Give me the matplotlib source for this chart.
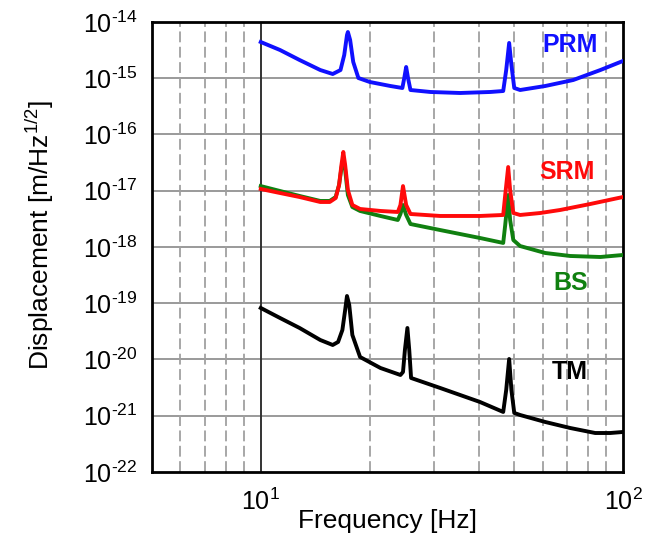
import matplotlib
matplotlib.use("Agg")
import matplotlib.pyplot as plt
from matplotlib.ticker import FixedLocator, NullLocator

plt.rcParams["font.family"] = ["Liberation Sans", "DejaVu Sans"]
plt.rcParams["mathtext.fontset"] = "custom"
plt.rcParams["mathtext.rm"] = "Liberation Sans"
plt.rcParams["mathtext.it"] = "Liberation Sans:italic"
plt.rcParams["mathtext.bf"] = "Liberation Sans:bold"

# ---- displacement noise spectra [m/Hz^1/2] ----
prm_freq = [10.0, 11.3, 12.8, 14.6, 15.8, 16.6, 17.0, 17.3, 17.4, 17.65, 18.0, 18.6,
            20.0, 22.8, 24.6, 24.9, 25.2, 25.5, 25.9, 29.4, 35.5, 43.0, 46.7, 47.6,
            48.5, 49.2, 50.1, 52.0, 61.0, 72.9, 86.6, 100.0]
prm_val = [4.41e-15, 3.18e-15, 2.11e-15, 1.40e-15, 1.19e-15, 1.40e-15, 2.59e-15, 5.87e-15,
           6.64e-15, 4.79e-15, 1.95e-15, 1.01e-15, 8.58e-16, 7.28e-16, 6.71e-16, 1.01e-15,
           1.585e-15, 1.01e-15, 6.18e-16, 5.70e-16, 5.47e-16, 5.70e-16, 5.93e-16, 1.40e-15,
           4.24e-15, 1.72e-15, 6.71e-16, 6.18e-16, 7.28e-16, 9.31e-16, 1.40e-15, 2.03e-15]

srm_freq = [10.0, 11.3, 12.8, 14.6, 15.5, 16.1, 16.45, 16.7, 16.9, 17.1, 17.4, 17.9,
            18.8, 21.4, 23.9, 24.3, 24.7, 25.2, 25.9, 31.3, 40.3, 46.7, 47.3, 48.2,
            48.8, 49.8, 52.0, 59.1, 67.1, 81.2, 100.0]
srm_val = [1.074e-17, 9.12e-18, 7.74e-18, 6.31e-18, 6.31e-18, 7.43e-18, 1.265e-17, 2.87e-17,
           4.89e-17, 2.87e-17, 1.03e-17, 5.58e-18, 4.74e-18, 4.37e-18, 4.19e-18, 5.58e-18,
           1.21e-17, 5.58e-18, 3.86e-18, 3.56e-18, 3.56e-18, 3.71e-18, 8.40e-18, 2.64e-17,
           1.03e-17, 4.02e-18, 3.71e-18, 4.02e-18, 4.55e-18, 5.81e-18, 7.74e-18]

bs_freq = [10.0, 11.3, 12.8, 14.6, 15.5, 16.1, 16.45, 16.7, 16.9, 17.1, 17.4, 17.9,
           18.8, 21.4, 23.9, 24.3, 24.7, 25.2, 25.9, 31.3, 40.3, 46.7, 47.3, 48.2,
           48.8, 49.8, 52.0, 61.0, 71.5, 86.6, 100.0]
bs_val = [1.21e-17, 9.90e-18, 8.07e-18, 6.58e-18, 6.58e-18, 7.74e-18, 1.265e-17, 2.54e-17,
          3.82e-17, 2.34e-17, 8.40e-18, 5.14e-18, 4.37e-18, 3.56e-18, 3.02e-18, 3.86e-18,
          5.58e-18, 3.71e-18, 2.56e-18, 2.00e-18, 1.445e-18, 1.18e-18, 2.46e-18, 8.40e-18,
          3.02e-18, 1.33e-18, 1.04e-18, 7.82e-19, 6.92e-19, 6.64e-19, 7.21e-19]

tm_freq = [10.0, 11.3, 12.8, 14.6, 15.8, 16.35, 16.8, 17.1, 17.3, 17.55, 17.9, 18.8,
           21.4, 24.3, 24.7, 25.0, 25.4, 25.7, 26.0, 31.3, 40.3, 46.7, 47.6, 48.5,
           49.2, 50.1, 52.0, 61.0, 71.5, 83.8, 92.2, 100.0]
tm_val = [8.24e-20, 5.47e-20, 3.63e-20, 2.22e-20, 1.81e-20, 2.05e-20, 3.34e-20, 7.59e-20,
          1.346e-19, 9.31e-20, 2.73e-20, 1.107e-20, 7.06e-21, 5.30e-21, 6.00e-21, 1.476e-20,
          3.63e-20, 1.476e-20, 4.69e-21, 3.11e-21, 1.754e-21, 1.167e-21, 2.87e-21, 1.02e-20,
          2.87e-21, 1.12e-21, 1.03e-21, 7.74e-22, 6.05e-22, 4.93e-22, 4.93e-22, 5.14e-22]

x_ticks = [10, 100]
x_tick_labels = [r"$\mathregular{10^{1}}$", r"$\mathregular{10^{2}}$"]
y_exponents = [-22, -21, -20, -19, -18, -17, -16, -15, -14]

fig = plt.figure(figsize=(6.52, 5.42), dpi=100)
ax = fig.add_axes([0.2327, 0.1292, 0.7228, 0.8302])
ax.set_xscale("log")
ax.set_yscale("log")
ax.set_xlim(5, 100)
ax.set_ylim(1e-22, 1e-14)

# grid: solid decade lines, dashed minor frequency lines
for e in y_exponents[1:-1]:
    ax.axhline(10.0 ** e, color="#9a9a9a", lw=1.4, zorder=1)
for f in [6, 7, 8, 9, 20, 30, 40, 50, 60, 70, 80, 90]:
    ax.axvline(f, color="#a0a0a0", lw=1.3, ls=(0, (6, 2.5)), zorder=1)
ax.axvline(10, color="#333333", lw=1.4, zorder=1)

lw = 2.8
ax.plot(prm_freq, prm_val, color="#1010ff", lw=lw, zorder=3, solid_joinstyle="round")
ax.plot(bs_freq, bs_val, color="#108010", lw=lw, zorder=3, solid_joinstyle="round")
ax.plot(srm_freq, srm_val, color="#ff0a0a", lw=lw, zorder=4, solid_joinstyle="round")
ax.plot(tm_freq, tm_val, color="black", lw=lw, zorder=3, solid_joinstyle="round")

label_kw = dict(fontsize=18, fontweight="bold", ha="center", va="center", zorder=5)
ax.text(71.5, 3.9e-15, "PRM", color="#1010ff", **label_kw)
ax.text(70.2, 2.15e-17, "SRM", color="#ff0a0a", **label_kw)
ax.text(71.5, 2.29e-19, "BS", color="#108010", **label_kw)
ax.text(71.5, 6.0e-21, "TM", color="black", **label_kw)

ax.xaxis.set_major_locator(FixedLocator(x_ticks))
ax.xaxis.set_minor_locator(NullLocator())
ax.set_xticklabels(x_tick_labels)
ax.yaxis.set_major_locator(FixedLocator([10.0 ** e for e in y_exponents]))
ax.yaxis.set_minor_locator(NullLocator())
ax.set_yticklabels([r"$\mathregular{10^{\text{-}%d}}$" % -e for e in y_exponents])
ax.tick_params(axis="both", length=0, labelsize=18)
ax.tick_params(axis="x", pad=12)
ax.tick_params(axis="y", pad=10)

for s in ax.spines.values():
    s.set_linewidth(2.0)
    s.set_color("black")

ax.set_xlabel("Frequency [Hz]", fontsize=19, va="center")
ax.xaxis.set_label_coords(0.5, -0.109)
ax.set_ylabel(r"Displacement [m/Hz$^{1/2}$]", fontsize=19, va="center")
ax.yaxis.set_label_coords(-0.237, 0.527)

fig.savefig("out.png", dpi=100)
